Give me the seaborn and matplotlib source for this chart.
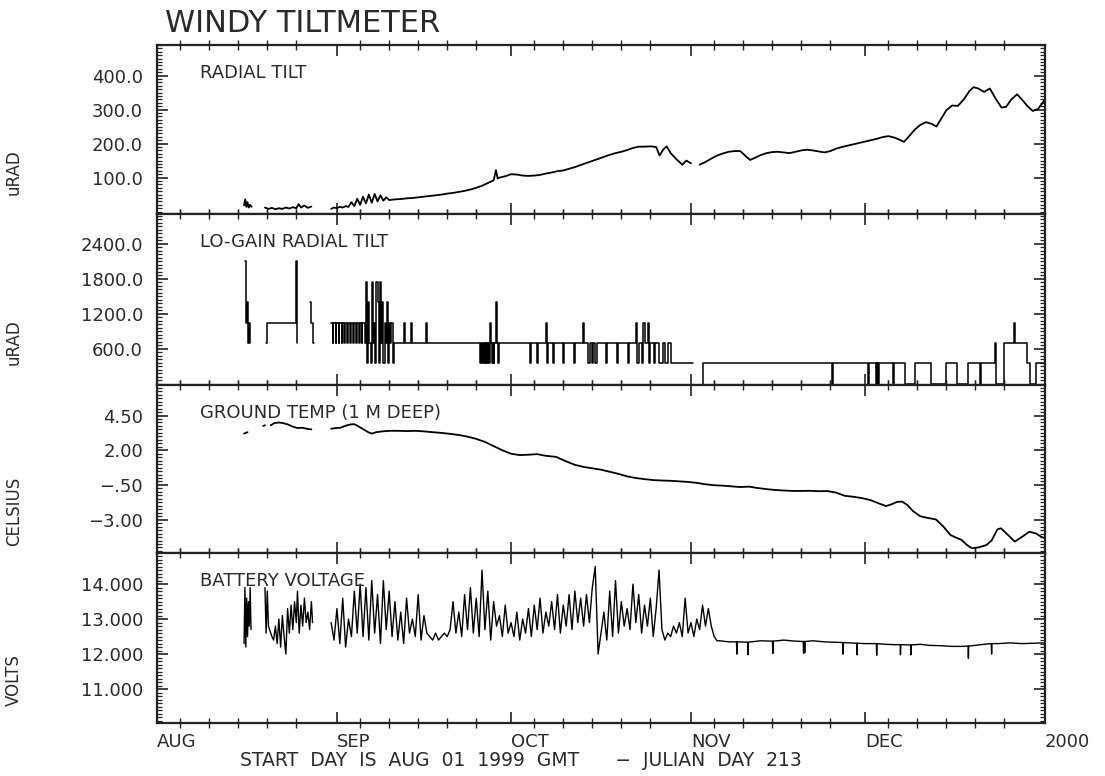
import numpy as np
import pandas as pd
import matplotlib
matplotlib.use("Agg")
import matplotlib.pyplot as plt
import seaborn as sns
from matplotlib.ticker import AutoMinorLocator

# ---------------- x axis (days since 1999-08-01) ----------------
MONTH_DAYS = [0, 31, 61, 92, 122, 153]
MONTH_LABELS = ["AUG", "SEP", "OCT", "NOV", "DEC", "2000"]
MINOR_DAYS = [4, 9, 14, 19, 24, 35, 40, 45, 50, 55, 65, 70, 75, 80, 85,
              96, 101, 106, 111, 116, 126, 131, 136, 141, 146]

# ---------------- RADIAL TILT (uRAD) ----------------
RADIAL_DAYS = [
    [15.0, 15.2, 15.4, 15.6, 15.8, 16.0, 16.3],
    [18.6, 19.2, 19.8, 20.4, 21.0, 21.6, 22.2, 22.8, 23.4, 24.0, 24.4, 24.8, 25.4, 26.0, 26.6],
    [30.0, 30.5, 31.0, 31.5, 32.0, 32.5, 33.0, 33.5, 34.0, 34.5, 35.0, 35.5, 36.0, 36.5, 37.0,
     37.5, 38.0, 38.5, 39.0, 39.5, 40.0, 41, 42, 43, 44, 45, 46, 47, 48, 49, 50, 51, 52, 53, 54,
     55, 56, 57, 58, 58.4, 58.7, 59, 60, 61, 62, 63, 64, 65, 66, 67, 68, 69, 70, 71, 72, 73, 74,
     75, 76, 77, 78, 79, 80, 81, 82, 83, 84, 85, 86, 86.6, 87.2, 87.8, 88.5, 89.5, 90.5, 91.2, 92.0],
    [93.5, 94.5, 95.5, 96.5, 97.5, 98.5, 99.5, 100.5, 101.5, 102.2, 103, 104, 105, 106, 107, 108,
     109, 110, 111, 112, 113, 114, 115, 116, 117, 118, 119, 120, 121, 122, 123, 124, 125, 126, 127,
     128, 128.7, 129.5, 130.5, 131.5, 132.5, 133.5, 134.3, 135, 136, 137, 138, 139, 140, 140.7,
     141.5, 142.5, 143.5, 144.5, 145.5, 146.3, 147.2, 148.2, 149, 150, 150.9, 151.8, 152.5, 153],
]
RADIAL_VALS = [
    [18, 36, 14, 28, 12, 20, 14],
    [12, 8, 11, 7, 10, 8, 12, 9, 13, 10, 22, 12, 18, 11, 15],
    [8, 12, 10, 14, 12, 16, 14, 28, 16, 38, 20, 44, 24, 50, 26,
     52, 30, 48, 32, 42, 34, 36, 37, 39, 40, 42, 44, 46, 48, 50, 53, 55, 58, 61, 65,
     70, 76, 84, 92, 122, 97, 100, 104, 110, 109, 106, 105, 106, 108, 112, 115, 119, 121, 126, 131, 137, 143,
     149, 155, 161, 167, 172, 176, 181, 187, 191, 191, 192, 190, 165, 182, 192, 172, 154, 138, 150, 142],
    [138, 146, 156, 165, 171, 176, 178, 178, 162, 152, 158, 166, 172, 175, 176, 174,
     172, 176, 180, 182, 180, 177, 174, 178, 185, 190, 194, 198, 202, 206, 210, 214, 219, 222, 218,
     211, 205, 220, 240, 255, 263, 258, 250, 270, 298, 312, 311, 330, 355, 366,
     362, 352, 362, 332, 306, 308, 330, 345, 330, 310, 296, 302, 318, 330],
]

# ---------------- LO-GAIN RADIAL TILT (uRAD, stepped) ----------------
LOGAIN_DAYS = [
    [15.2, 15.35, 15.5, 15.7, 15.9, 16.1],
    [18.8, 18.9, 24.0, 24.1, 24.2],
    [26.3, 26.6, 26.9, 27.1],
    [30.0, 30.3, 30.4, 30.8, 30.9, 31.3, 31.4, 31.8, 31.9, 32.3, 32.45, 32.8, 32.9, 33.3, 33.4,
     33.8, 33.9, 34.3, 34.4, 34.8, 34.9, 35.3, 35.4, 35.8,
     36.0, 36.2, 36.4, 36.6, 36.8, 37.0, 37.2, 37.4, 37.6, 37.8, 38.0, 38.2, 38.4, 38.6, 38.8,
     39.0, 39.2, 39.4, 39.6, 39.8, 40.0, 40.2, 40.4, 40.6, 40.8,
     42.6, 42.8, 43.8, 44.0, 46.3, 46.5,
     55.7, 55.85, 56.0, 56.15, 56.3, 56.45, 56.6, 56.75, 56.9, 57.05, 57.2, 57.35, 57.5, 57.7,
     57.85, 58.0, 58.15, 58.35, 58.5, 58.7, 58.85,
     64.3, 64.45, 65.5, 65.65, 67.0, 67.15, 67.3, 68.3, 68.45,
     70.0, 70.15, 71.8, 71.95, 73.4, 73.55,
     74.3, 74.6, 74.9, 75.2, 75.5, 75.8,
     77.4, 77.55, 79.2, 79.35, 81.1, 81.25,
     82.6, 82.75, 83.0, 83.6, 83.75, 84.0, 84.6, 84.8, 85.0, 85.7, 85.85,
     86.5, 87.2, 87.6, 88.1, 88.6, 92.4],
    [94.0, 94.15, 116.3, 116.45, 122.5, 122.6, 123.9, 124.0, 124.1, 124.2, 124.3, 124.45,
     126.8, 126.9, 128.9, 130.6, 133.4, 136.0, 137.8, 139.8, 141.8, 141.9, 144.3, 144.6,
     146.0, 147.6, 147.8, 149.9, 150.4, 151.4, 153.0],
]
LOGAIN_VALS = [
    [2100, 1050, 1400, 700, 1050, 700],
    [700, 1050, 2100, 700, 700],
    [1400, 1050, 700, 700],
    [1050, 700, 1050, 700, 1050, 700, 1050, 700, 1050, 700, 1050, 700, 1050, 700, 1050,
     700, 1050, 700, 1050, 700, 1050, 700, 1050, 700,
     1750, 350, 1400, 700, 350, 1750, 700, 1050, 350, 1750, 1400, 350, 1750, 700, 1400,
     350, 1050, 700, 1400, 350, 1050, 700, 1050, 350, 700,
     1050, 700, 1050, 700, 1050, 700,
     350, 700, 350, 700, 350, 700, 350, 700, 350, 700, 350, 1050, 700, 350,
     700, 350, 700, 1400, 700, 350, 700,
     350, 700, 350, 700, 1050, 350, 700, 350, 700,
     350, 700, 350, 700, 1050, 700,
     350, 700, 350, 700, 350, 700,
     350, 700, 350, 700, 350, 700,
     1050, 350, 700, 350, 1050, 700, 1050, 350, 700, 350, 700,
     350, 700, 350, 700, 350, 350],
    [0, 350, 0, 350, 0, 350, 0, 350, 0, 350, 0, 350,
     0, 350, 0, 350, 0, 350, 0, 350, 0, 350, 700, 0,
     700, 1050, 700, 350, 0, 350, 350],
]

# ---------------- GROUND TEMP (CELSIUS) ----------------
TEMP_DAYS = [
    [15.0, 15.3, 15.6],
    [18.3, 18.6],
    [19.6, 20.2, 21.0, 21.8, 22.6, 23.4, 24.2, 25.0, 25.8, 26.6],
    [30.0, 30.8, 31.6, 32.4, 33.2, 34.0, 34.8, 35.6, 36.4, 37.0, 37.8, 38.6, 39.4, 40.2, 41.5,
     43, 44.5, 46, 47.5, 49, 50.5, 52, 53.5, 55, 56.5, 58, 59.5, 61, 62.5, 64, 65.5, 67, 68.8,
     70.5, 72, 73.5, 75, 76.5, 78, 79.5, 81, 82.5, 84, 85.5, 87, 88.5, 90, 91.5, 93, 94.5, 96,
     97.5, 99, 100.5, 102, 103.5, 105, 106.5, 108, 109.5, 111, 112.5, 114, 115.5, 117, 118.5,
     120, 121.5, 123, 124.5, 125.6, 126.5, 127.5, 128.4, 129.3, 130.3, 131.5, 132.5, 134.2,
     135.5, 136.7, 137.7, 138.6, 139.5, 140.4, 141.5, 142.9, 143.8, 144.8, 145.4, 146.5, 147.8,
     149, 150.3, 151.5, 152.4, 153],
]
TEMP_VALS = [
    [3.2, 3.25, 3.3],
    [3.75, 3.8],
    [3.8, 3.95, 4.0, 3.95, 3.85, 3.7, 3.6, 3.62, 3.55, 3.5],
    [3.55, 3.6, 3.62, 3.75, 3.85, 3.88, 3.7, 3.5, 3.3, 3.2, 3.3, 3.35, 3.38, 3.4, 3.4,
     3.38, 3.4, 3.36, 3.3, 3.25, 3.18, 3.1, 2.98, 2.82, 2.6, 2.3, 2.0, 1.75, 1.65, 1.68, 1.72, 1.6, 1.52,
     1.2, 0.95, 0.8, 0.7, 0.6, 0.45, 0.3, 0.12, 0.0, -0.08, -0.15, -0.18, -0.2, -0.24, -0.28, -0.35, -0.45, -0.52,
     -0.55, -0.6, -0.65, -0.62, -0.72, -0.8, -0.86, -0.9, -0.93, -0.93, -0.92, -0.95, -0.94, -1.05, -1.28,
     -1.35, -1.45, -1.6, -1.85, -2.02, -1.9, -1.72, -1.7, -1.95, -2.4, -2.75, -2.85, -2.98,
     -3.5, -4.1, -4.3, -4.45, -4.8, -5.06, -5.0, -4.83, -4.5, -3.7, -3.62, -4.05, -4.58,
     -4.25, -3.87, -4.0, -4.25, -4.34],
]

# ---------------- BATTERY VOLTAGE (VOLTS) ----------------
BATT_AUG_DAYS = [
    [15.0, 15.15, 15.3, 15.45, 15.6, 15.75, 15.9, 16.05, 16.2],
    [18.6, 18.8, 19.0, 19.2, 19.8, 20.1, 20.4, 20.7, 21.0, 21.3, 21.6, 21.9, 22.2, 22.5, 22.8,
     23.1, 23.4, 23.7, 24.0, 24.2, 24.5, 24.8, 25.1, 25.4, 25.7, 26.0, 26.3, 26.6, 26.8],
]
BATT_AUG_VALS = [
    [12.3, 13.9, 12.2, 13.6, 12.5, 13.5, 12.8, 13.9, 12.7],
    [13.9, 12.6, 13.8, 12.8, 12.5, 12.4, 12.8, 12.3, 13.0, 12.2, 13.1, 12.5, 12.0, 13.3, 12.6,
     13.4, 12.7, 13.5, 12.9, 13.8, 12.6, 13.4, 12.8, 13.6, 12.9, 13.2, 12.7, 13.5, 12.9],
]
BATT_NOISY_START, BATT_NOISY_STEP = 30.0, 0.5
BATT_NOISY_VALS = [
    12.9, 12.4, 13.3, 12.3, 13.6, 12.2, 13.0, 12.5, 13.8, 12.6,
    14.0, 12.5, 13.9, 12.4, 14.1, 12.6, 13.7, 12.3, 14.1, 12.7,
    13.8, 12.5, 13.5, 12.4, 13.2, 12.3, 13.6, 12.6, 13.0, 12.5,
    13.7, 12.4, 13.1, 12.6, 12.5, 12.4, 12.6, 12.4, 12.5, 12.6,
    12.5, 12.7, 13.5, 12.6, 13.2, 12.5, 13.7, 12.7, 13.9, 12.6,
    13.6, 12.5, 14.4, 12.7, 13.8, 12.4, 13.5, 12.8, 13.1, 12.5,
    13.4, 12.6, 12.9, 12.5, 13.2, 12.4, 13.0, 12.6, 13.3, 12.5,
    13.4, 12.7, 13.6, 12.6, 13.2, 12.8, 13.5, 12.7, 13.7, 12.6,
    13.4, 12.8, 13.7, 12.7, 13.8, 12.9, 13.6, 12.8, 13.7, 12.9,
    13.9, 14.5, 12.0, 12.6, 13.2, 12.4, 13.8, 12.5, 14.1, 12.6,
    13.5, 12.8, 13.3, 12.7, 14.0, 12.9, 13.7, 12.6, 13.4, 12.8,
    13.6, 12.5, 13.3, 14.4, 12.7, 12.4, 12.6, 12.5, 12.8, 12.6,
    12.9, 12.5, 13.6, 12.6, 12.9, 12.5, 13.0, 12.7, 13.4, 12.8,
    13.3, 12.8, 12.5, 12.38,
]
BATT_FLAT_DAYS = [97.0, 98.5, 99.85, 99.9, 99.95, 101.75, 101.8, 101.85, 104.0, 106.05, 106.1,
                  106.15, 108.0, 110.0, 111.35, 111.4, 111.45, 111.55, 111.6, 111.65, 113.0,
                  115.0, 116.5, 118.15, 118.2, 118.25, 119.5, 120.55, 120.6, 120.65, 122.0,
                  123.95, 124.0, 124.05, 125.5, 127.0, 128.05, 128.1, 128.15, 129.85, 129.9,
                  129.95, 131.5, 133.0, 135.0, 137.0, 138.5, 139.75, 139.8, 139.85, 141.0,
                  142.5, 143.75, 143.8, 143.85, 145.0, 147.0, 149.0, 151.0, 153.0]
BATT_FLAT_VALS = [12.38, 12.35, 12.35, 12.00, 12.35, 12.34, 11.98, 12.34, 12.38, 12.37, 12.02,
                  12.37, 12.40, 12.37, 12.36, 12.02, 12.36, 12.36, 12.04, 12.36, 12.38,
                  12.35, 12.34, 12.33, 12.00, 12.33, 12.32, 12.31, 11.98, 12.31, 12.30,
                  12.30, 11.97, 12.30, 12.28, 12.27, 12.27, 11.98, 12.27, 12.26, 11.98,
                  12.26, 12.28, 12.25, 12.24, 12.22, 12.22, 12.23, 11.88, 12.23, 12.25,
                  12.28, 12.30, 12.00, 12.30, 12.30, 12.32, 12.30, 12.31, 12.32]

# ---------------- panel text ----------------
PANEL_TITLES = ["RADIAL TILT", "LO-GAIN RADIAL TILT", "GROUND TEMP (1 M DEEP)", "BATTERY VOLTAGE"]
PANEL_YLABELS = ["uRAD", "uRAD", "CELSIUS", "VOLTS"]
PANEL_YTICKS = [[100, 200, 300, 400], [600, 1200, 1800, 2400], [-3.0, -0.5, 2.0, 4.5], [11, 12, 13, 14]]
PANEL_YTICKLABELS = [["100.0", "200.0", "300.0", "400.0"],
                     ["600.0", "1200.0", "1800.0", "2400.0"],
                     ["\u22123.00", "\u2212.50", "2.00", "4.50"],
                     ["11.000", "12.000", "13.000", "14.000"]]
PANEL_YLIMS = [(-7, 490), (-20, 2910), (-5.4, 6.7), (10.03, 14.89)]


def frame(day_segs, val_segs):
    parts = [pd.DataFrame({"day": d, "value": v, "seg": i})
             for i, (d, v) in enumerate(zip(day_segs, val_segs))]
    return pd.concat(parts, ignore_index=True)


batt_noisy_days = BATT_NOISY_START + BATT_NOISY_STEP * np.arange(len(BATT_NOISY_VALS))
batt_days = BATT_AUG_DAYS + [list(batt_noisy_days) + BATT_FLAT_DAYS]
batt_vals = BATT_AUG_VALS + [BATT_NOISY_VALS + BATT_FLAT_VALS]

frames = [frame(RADIAL_DAYS, RADIAL_VALS), frame(LOGAIN_DAYS, LOGAIN_VALS),
          frame(TEMP_DAYS, TEMP_VALS), frame(batt_days, batt_vals)]
drawstyles = ["default", "steps-post", "default", "default"]
linewidths = [1.3, 1.1, 1.3, 1.0]

sns.set_theme(style="white")
plt.rcParams["font.family"] = ["DejaVu Sans"]
TXT = "#2a2a2a"

W, H = 1105, 776
fig = plt.figure(figsize=(W / 100, H / 100), dpi=100)
fig.patch.set_facecolor("white")
EDGES = [45, 214, 385, 553, 723]
LEFT, RIGHT = 157, 1045

for i in range(4):
    top, bot = EDGES[i], EDGES[i + 1]
    ax = fig.add_axes([LEFT / W, 1 - bot / H, (RIGHT - LEFT) / W, (bot - top) / H])
    ax.set_facecolor("white")
    sns.lineplot(data=frames[i], x="day", y="value", units="seg", estimator=None,
                 sort=False, color="black", lw=linewidths[i], drawstyle=drawstyles[i],
                 legend=False, ax=ax)
    ax.set_xlim(0, 153)
    ax.set_ylim(*PANEL_YLIMS[i])
    for sp in ax.spines.values():
        sp.set_visible(True)
        sp.set_linewidth(1.6)
        sp.set_color("#222222")
    ax.set_xticks(MONTH_DAYS)
    ax.set_xticks(MINOR_DAYS, minor=True)
    ax.set_yticks(PANEL_YTICKS[i])
    ax.set_yticklabels(PANEL_YTICKLABELS[i], fontsize=13, color=TXT)
    ax.yaxis.set_minor_locator(AutoMinorLocator(10))
    ax.tick_params(axis="both", which="major", direction="in", length=8, width=1.2,
                   top=True, right=True, bottom=True, left=True, colors="#222222",
                   labelcolor=TXT)
    ax.tick_params(axis="y", which="minor", direction="in", length=3.5, width=0.9,
                   left=True, right=True, colors="#222222")
    ax.tick_params(axis="x", which="minor", direction="inout", length=7, width=1.0,
                   top=True, bottom=True, colors="#222222")
    ax.tick_params(axis="y", which="major", pad=10)
    if i < 3:
        ax.tick_params(axis="x", labelbottom=False)
        ax.set_xlabel("")
    else:
        ax.set_xticklabels(MONTH_LABELS, fontsize=13, color=TXT)
        for lab in ax.get_xticklabels():
            lab.set_horizontalalignment("left")
        ax.tick_params(axis="x", which="major", pad=7)
        ax.set_xlabel("")
    ax.set_ylabel(PANEL_YLABELS[i], fontsize=12, color=TXT)
    ax.yaxis.set_label_coords(-0.151, 0.25)
    ax.text(0.048, 0.835, PANEL_TITLES[i], transform=ax.transAxes, fontsize=13,
            ha="left", va="center", color=TXT)

fig.text(165 / W, 1 - 24 / H, "WINDY TILTMETER", fontsize=22, ha="left", va="center", color=TXT)
fig.text(240 / W, 1 - 760 / H, "START  DAY  IS  AUG  01  1999  GMT      \u2212  JULIAN  DAY  213",
         fontsize=13.5, ha="left", va="center", color=TXT)

fig.savefig("out.png", dpi=100, facecolor="white")
